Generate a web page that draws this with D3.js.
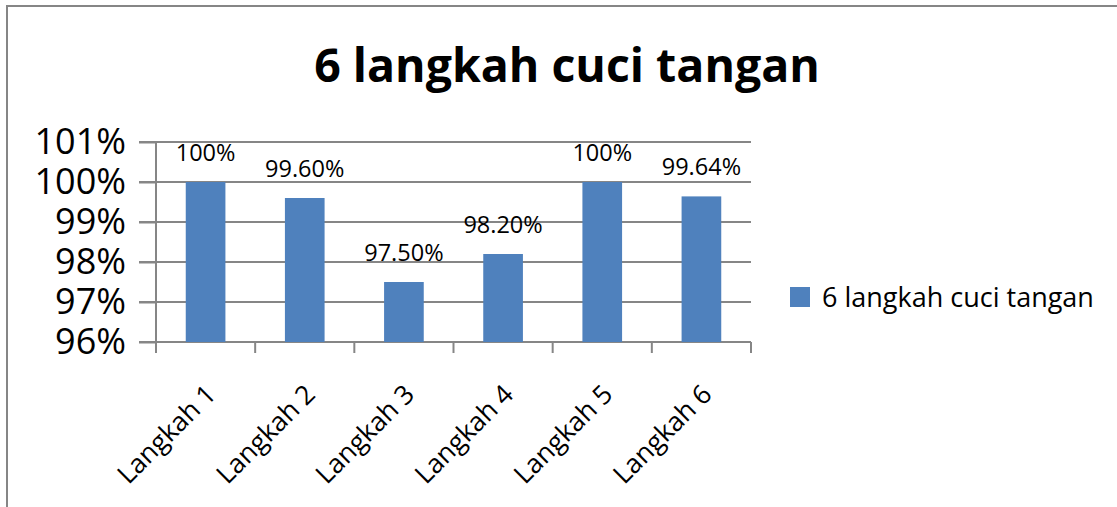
<!DOCTYPE html>
<meta charset="utf-8">
<style>
body { margin: 0; background: #fff; }
text { font-family: "Open Sans", sans-serif; fill: #000; }
.grid line { stroke: #868686; stroke-width: 2; }
.axis path, .axis line { stroke: #868686; stroke-width: 2; }
</style>
<svg width="1117" height="507"></svg>
<script src="https://d3js.org/d3.v7.min.js"></script>
<script>

var categories = ["Langkah 1", "Langkah 2", "Langkah 3", "Langkah 4", "Langkah 5", "Langkah 6"];
var values = [100, 99.6, 97.5, 98.2, 100, 99.64];
var valueLabels = ["100%", "99.60%", "97.50%", "98.20%", "100%", "99.64%"];
var yTicks = [96, 97, 98, 99, 100, 101];
var seriesName = "6 langkah cuci tangan";
var title = "6 langkah cuci tangan";

var svg = d3.select("svg");

// chart border (left + top only, the rest is cut off)
svg.append("path")
    .attr("d", "M7,507V6H1117")
    .attr("fill", "none")
    .attr("stroke", "#868686")
    .attr("stroke-width", 2);

var x = d3.scaleBand()
    .domain(categories)
    .range([156, 751])
    .paddingInner(0.6)
    .paddingOuter(0.3);

var xb = d3.scaleBand()
    .domain(categories)
    .range([156, 751]);

var y = d3.scaleLinear()
    .domain([96, 101])
    .range([342, 142]);

svg.append("text")
    .attr("x", 567)
    .attr("y", 82)
    .attr("text-anchor", "middle")
    .attr("font-weight", "bold")
    .attr("font-size", 46.5)
    .text(title);

// gridlines
svg.append("g")
    .attr("class", "grid")
    .selectAll("line")
  .data(yTicks)
  .enter().append("line")
    .attr("x1", 139)
    .attr("x2", 751)
    .attr("y1", function(d) { return y(d); })
    .attr("y2", function(d) { return y(d); });

// y axis
var yAxis = svg.append("g")
    .attr("class", "axis")
    .attr("transform", "translate(156,0)")
    .call(d3.axisLeft(y)
      .tickValues(yTicks)
      .tickSize(17)
      .tickPadding(13)
      .tickFormat(function(d) { return d + "%"; }));
yAxis.select(".domain").attr("d", "M0,142V342");
yAxis.selectAll("text")
    .attr("font-size", 36)
    .attr("font-family", "Open Sans")
    .attr("fill", "#000");

// x axis with ticks on band boundaries
var xAxis = svg.append("g")
    .attr("class", "axis")
    .attr("transform", "translate(0,342)");
xAxis.append("line")
    .attr("x1", 156)
    .attr("x2", 751);
xAxis.selectAll(".tk")
  .data(categories.concat(["end"]))
  .enter().append("line")
    .attr("class", "tk")
    .attr("x1", function(d, i) { return i < categories.length ? xb(d) : xb.range()[1]; })
    .attr("x2", function(d, i) { return i < categories.length ? xb(d) : xb.range()[1]; })
    .attr("y1", 0)
    .attr("y2", 11);

xAxis.selectAll(".lbl")
  .data(categories)
  .enter().append("text")
    .attr("class", "lbl")
    .attr("text-anchor", "end")
    .attr("font-size", 26.5)
    .attr("transform", function(d) {
      return "translate(" + (x(d) + x.bandwidth() / 2 + 12) + ",54) rotate(-45)";
    })
    .text(function(d) { return d; });

// bars
svg.append("g")
    .selectAll("rect")
  .data(values)
  .enter().append("rect")
    .attr("x", function(d, i) { return x(categories[i]); })
    .attr("width", x.bandwidth())
    .attr("y", function(d) { return y(d); })
    .attr("height", function(d) { return y(96) - y(d); })
    .attr("fill", "#4f81bd");

// data labels
svg.append("g")
    .selectAll("text")
  .data(values)
  .enter().append("text")
    .attr("x", function(d, i) { return x(categories[i]) + x.bandwidth() / 2; })
    .attr("y", function(d) { return y(d) - 21; })
    .attr("text-anchor", "middle")
    .attr("font-size", 23.5)
    .text(function(d, i) { return valueLabels[i]; });

// legend
var legend = svg.append("g")
    .attr("transform", "translate(790,287)");
legend.append("rect")
    .attr("width", 20)
    .attr("height", 20)
    .attr("fill", "#4f81bd");
legend.append("text")
    .attr("x", 32)
    .attr("y", 20)
    .attr("font-size", 27)
    .text(seriesName);

</script>
